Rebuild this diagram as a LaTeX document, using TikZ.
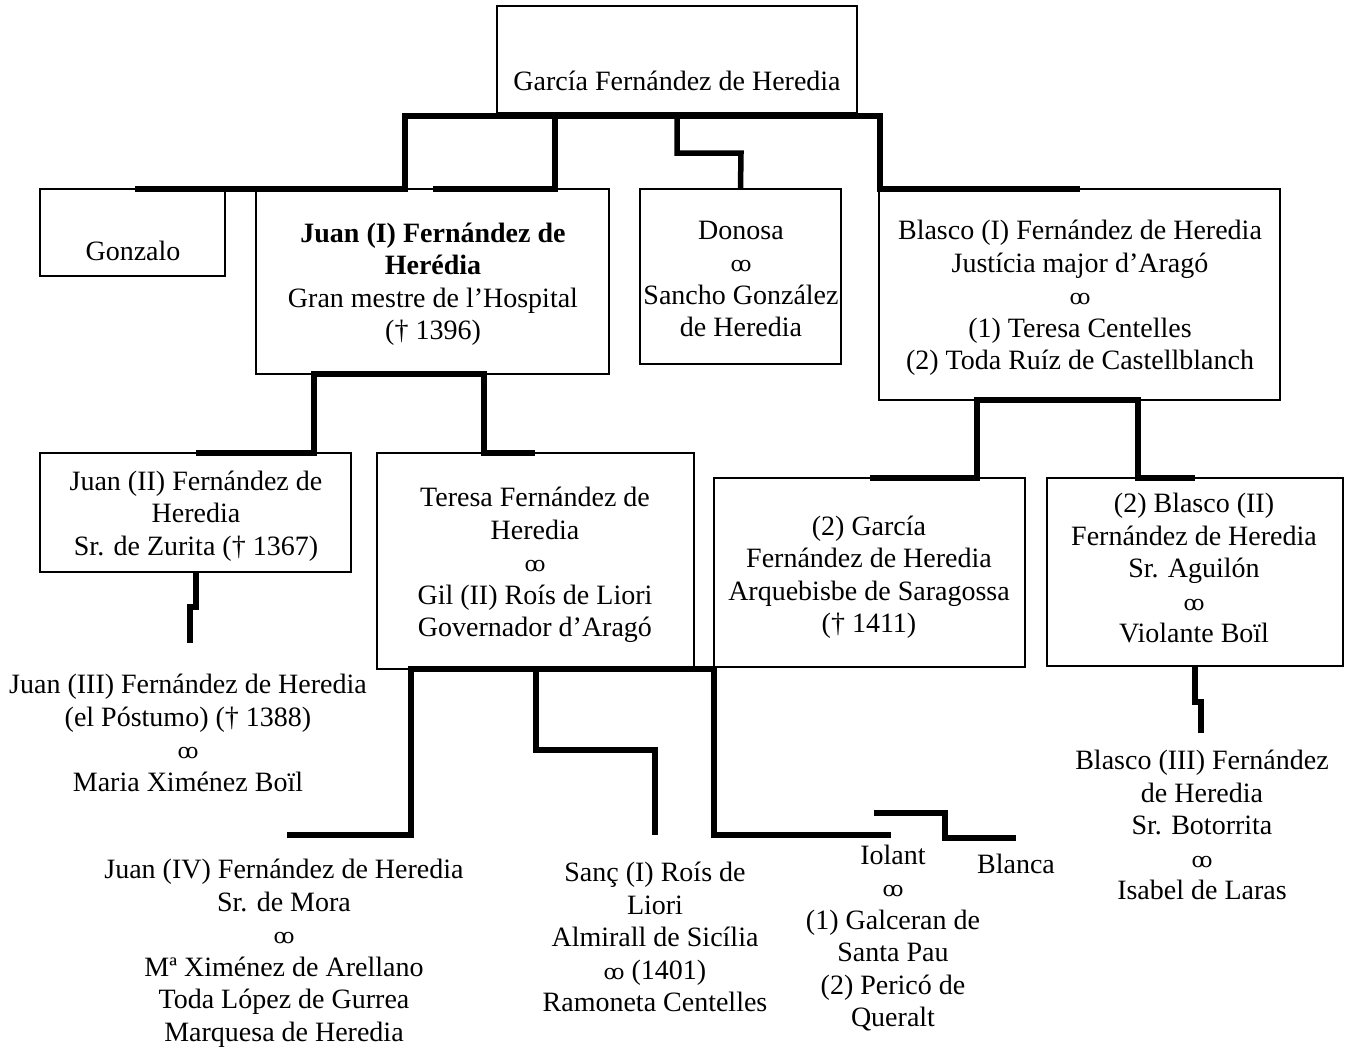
\documentclass[tikz,border=0pt]{standalone}
\usepackage{fontspec}
\setmainfont{Liberation Serif}
\newfontfamily\ringfont{DejaVu Serif}
% marriage sign
\newcommand\wed{{\ringfont\fontsize{21}{21}\selectfont ꝏ}}
\tikzset{
  box/.style={draw, line width=1.4pt, inner sep=0pt},
  txt/.style={align=center, inner sep=0pt, font=\fontsize{28}{32.5}\selectfont},
  link/.style={line width=5.5pt, line join=miter},
}
\begin{document}
\begin{tikzpicture}[x=1pt, y=-1pt]
\useasboundingbox (0,0) rectangle (1354,1049);

% family boxes
\node[box, minimum width=360, minimum height=107] (topbox)   at (677,59.5) {};
\node[box, minimum width=185, minimum height=87]  (gonzbox)  at (132.5,232.5) {};
\node[box, minimum width=353, minimum height=185] (juan1box) at (432.5,281.5) {};
\node[box, minimum width=201, minimum height=175] (donbox)   at (740.5,276.5) {};
\node[box, minimum width=401, minimum height=211] (blas1box) at (1079.5,294.5) {};
\node[box, minimum width=311, minimum height=119] (juan2box) at (195.5,512.5) {};
\node[box, minimum width=317, minimum height=216] (terbox)   at (535.5,561) {};
\node[box, minimum width=311, minimum height=189] (garbox)   at (869.5,572.5) {};
\node[box, minimum width=296, minimum height=188] (blas2box) at (1195,572) {};

% names
\node[txt] (garcia) at (677,81) {García Fernández de Heredia};
\node[txt] (gonz)   at (133,251) {Gonzalo};
\node[txt] (juan1)  at (433,284) {\bfseries Juan (I) Fernández de\\\bfseries Herédia\\Gran mestre de l’Hospital\\(† 1396)};
\node[txt] (donosa) at (741,279) {Donosa\\\wed\\Sancho González\\de Heredia};
\node[txt] (blas1)  at (1080,298) {Blasco (I) Fernández de Heredia\\Justícia major d’Aragó\\\wed\\(1) Teresa Centelles\\(2) Toda Ruíz de Castellblanch};
\node[txt] (juan2)  at (196,516) {Juan (II) Fernández de\\Heredia\\Sr. de Zurita († 1367)};
\node[txt] (teresa) at (535,565) {Teresa Fernández de\\Heredia\\\wed\\Gil (II) Roís de Liori\\Governador d’Aragó};
\node[txt] (garcia2) at (869,577) {(2) García\\Fernández de Heredia\\Arquebisbe de Saragossa\\(† 1411)};
\node[txt] (blas2)  at (1194,568) {(2) Blasco (II)\\Fernández de Heredia\\Sr. Aguilón\\\wed\\Violante Boïl};
\node[txt] (juan3)  at (188,733) {Juan (III) Fernández de Heredia\\(el Póstumo) († 1388)\\\wed\\Maria Ximénez Boïl};
\node[txt] (juan4)  at (284,953) {Juan (IV) Fernández de Heredia\\Sr. de Mora\\\wed\\Mª Ximénez de Arellano\\Toda López de Gurrea\\Marquesa de Heredia};
\node[txt] (sanc)   at (655,937) {Sanç (I) Roís de\\Liori\\Almirall de Sicília\\\wed{} (1401)\\Ramoneta Centelles};
\node[txt] (iolant) at (893,938) {Iolant\\\wed\\(1) Galceran de\\Santa Pau\\(2) Pericó de\\Queralt};
\node[txt] (blanca) at (1016,864) {Blanca};
\node[txt] (blas3)  at (1202,825) {Blasco (III) Fernández\\de Heredia\\Sr. Botorrita\\\wed\\Isabel de Laras};

% connector ends
\coordinate (eGonz)  at (135,189);
\coordinate (eJuan1) at (433,189);
\coordinate (eJ1top) at (555,116);
\coordinate (eDon)   at (677,116);
\coordinate (eBlas1) at (1080,189);
\coordinate (eJuan2) at (196,453);
\coordinate (eTer)   at (535,453);
\coordinate (eGar)   at (870,478);
\coordinate (eBlas2) at (1195,478);
\coordinate (eJ2bot) at (196,572);
\coordinate (eJuan3) at (190,643);
\coordinate (eJuan4) at (287,835);
\coordinate (eSanc)  at (655,835);
\coordinate (eIol)   at (891,835);
\coordinate (eIolB)  at (874,813);
\coordinate (eBlanca) at (1016,838);
\coordinate (eB2bot) at (1195,666);
\coordinate (eBlas3) at (1201,733);

% descent lines
\draw[link] (eGonz) -- (405,189) -- (405,116) -- (880,116) -- (880,189) -- (eBlas1);
\draw[link] (eJuan1) -- (555,189) -- (eJ1top);
\draw[link] (eDon) -- (677,153) -- (741,153) -- (donbox.north);
\draw[link] (eJuan2) -- (314,453) -- (314,374) -- (484,374) -- (484,453) -- (eTer);
\draw[link] (eGar) -- (977,478) -- (977,400) -- (1138,400) -- (1138,478) -- (eBlas2);
\draw[link] (eJ2bot) -- (196,607) -- (190,607) -- (eJuan3);
\draw[link] (eJuan4) -- (411,835) -- (411,669) -- (714,669) -- (714,835) -- (eIol);
\draw[link] (536,669) -- (536,750) -- (655,750) -- (eSanc);
\draw[link] (eIolB) -- (945,813) -- (945,838) -- (eBlanca);
\draw[link] (eB2bot) -- (1195,702) -- (1201,702) -- (eBlas3);
\end{tikzpicture}
\end{document}
